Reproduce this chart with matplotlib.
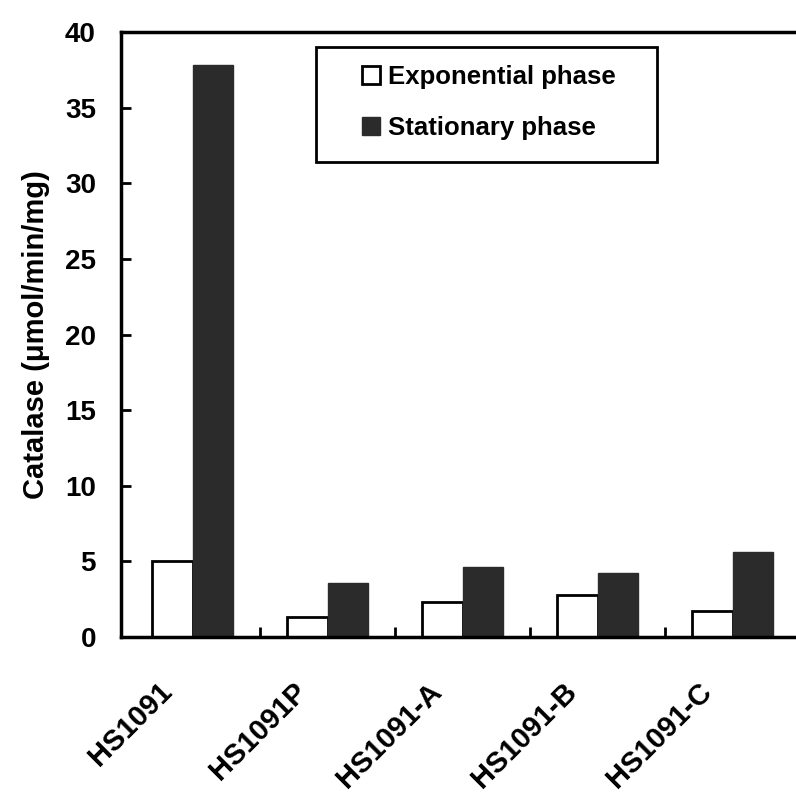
import matplotlib

matplotlib.use("Agg")
import matplotlib.pyplot as plt
from matplotlib.patches import Rectangle
import numpy as np

strains = ["HS1091", "HS1091P", "HS1091-A", "HS1091-B", "HS1091-C"]
exponential = [5.0, 1.3, 2.3, 2.8, 1.7]
stationary = [37.8, 3.6, 4.6, 4.2, 5.6]

plt.rcParams["font.family"] = ["Liberation Sans", "DejaVu Sans"]
plt.rcParams["font.weight"] = "bold"

DARK = "#2b2b2b"

fig = plt.figure(figsize=(7.96, 7.98), dpi=100)
ax = fig.add_axes([0.152, 0.2018, 0.848, 0.758])

x = np.arange(len(strains))
w = 0.3
ax.bar(x - w / 2, exponential, w, facecolor="white", edgecolor="black",
       linewidth=2, label="Exponential phase")
ax.bar(x + w / 2, stationary, w, facecolor=DARK, edgecolor=DARK,
       linewidth=1.0, label="Stationary phase")

ax.set_xlim(-0.53, 4.47)
ax.set_ylim(0, 40)
ax.set_yticks(range(0, 45, 5))

# labels end a little left of the group centre, like the original
ax.set_xticks(x - 0.11)
ax.set_xticklabels(strains, rotation=45, ha="right", va="top",
                   fontsize=21, fontweight="bold")
ax.set_xticks(x[:-1] + 0.5, minor=True)
ax.tick_params(axis="x", which="major", length=0, pad=29)
ax.tick_params(axis="x", which="minor", direction="in", length=7, width=2)
ax.tick_params(axis="y", direction="in", length=7, width=2, labelsize=20, pad=18)
for lbl in ax.get_yticklabels():
    lbl.set_fontweight("bold")

for spine in ax.spines.values():
    spine.set_linewidth(2.5)
ax.spines["right"].set_visible(False)

ax.set_ylabel("Catalase (\u03bcmol/min/mg)", fontsize=21, fontweight="bold", labelpad=11)

leg = ax.legend(loc="upper left", bbox_to_anchor=(0.357, 0.945), fontsize=18.5,
                frameon=False, handlelength=0.7, handleheight=0.7,
                handletextpad=0.3, borderpad=0, labelspacing=1.05,
                borderaxespad=0)
for t in leg.get_texts():
    t.set_fontweight("bold")
ax.add_patch(Rectangle((0.289, 0.785), 0.505, 0.19, transform=ax.transAxes,
                       fill=False, edgecolor="black", linewidth=2, zorder=5))

fig.savefig("out.png", dpi=100)
